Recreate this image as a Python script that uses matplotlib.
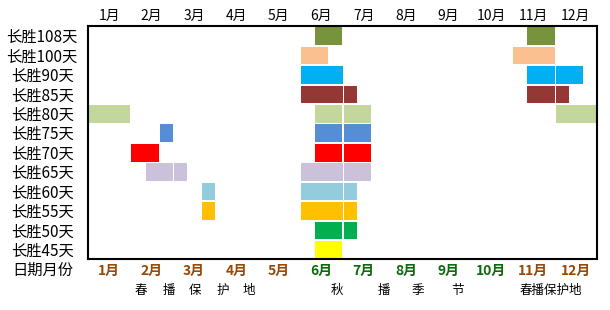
"""Sowing calendar for the 长胜 varieties (Gantt-like month grid)."""

import matplotlib

matplotlib.use("Agg")
import matplotlib.pyplot as plt  # noqa: E402
from matplotlib.transforms import blended_transform_factory  # noqa: E402

plt.rcParams["font.family"] = ["Noto Sans CJK SC", "DejaVu Sans"]

MONTHS = [f"{m}月" for m in range(1, 13)]
VARIETIES = [
    "长胜108天", "长胜100天", "长胜90天", "长胜85天", "长胜80天", "长胜75天",
    "长胜70天", "长胜65天", "长胜60天", "长胜55天", "长胜50天", "长胜45天",
]
COLORS = [
    "#77933C", "#FAC090", "#00B0F0", "#953735", "#C3D69B", "#558ED5",
    "#FF0000", "#CCC1DA", "#93CDDD", "#FFC000", "#00B050", "#FFFF00",
]
# sowing windows in 旬 (thirds of a month), counted from 1月上旬 = 0, end exclusive
PERIODS = [
    [(16, 18), (31, 33)],
    [(15, 17), (30, 33)],
    [(15, 18), (31, 35)],
    [(15, 19), (31, 34)],
    [(0, 3), (16, 20), (33, 36)],
    [(5, 6), (16, 20)],
    [(3, 5), (16, 20)],
    [(4, 7), (15, 20)],
    [(8, 9), (15, 19)],
    [(8, 9), (15, 19)],
    [(16, 19)],
    [(16, 18)],
]
MONTH_COLORS = ["#984807"] * 5 + ["#0B6A0B"] * 5 + ["#984807"] * 2
SEASON_NOTES = [
    ("春", 3.75), ("播", 5.75), ("保", 7.6), ("护", 9.5), ("地", 11.4),
    ("秋", 17.6), ("播", 20.9), ("季", 23.3), ("节", 26.1),
    ("春播保护地", 32.7),
]

fig = plt.figure(figsize=(6.1, 3.1), dpi=100)
ax = fig.add_axes([88 / 610, 1 - 259 / 310, 509 / 610, 233 / 310])

for row, (periods, color) in enumerate(zip(PERIODS, COLORS)):
    for start, end in periods:
        # split each window at month boundaries, like the merged cells in the sheet
        pos = start
        while pos < end:
            nxt = min(end, (pos // 3 + 1) * 3)
            ax.barh(row, nxt - pos, left=pos, height=0.96, color=color,
                    edgecolor="white", linewidth=0.7)
            pos = nxt

ax.set_xlim(0, 36)
ax.set_ylim(len(VARIETIES) - 0.5, -0.5)

ax.xaxis.tick_top()
ax.set_xticks([m * 3 + 1.5 for m in range(12)])
ax.set_xticklabels(MONTHS, fontsize=10)
ax.tick_params(axis="x", length=0, pad=2)

ax.set_yticks(range(len(VARIETIES)))
ax.set_yticklabels(VARIETIES, fontsize=11, ha="center")
ax.tick_params(axis="y", length=0, pad=33)

for spine in ax.spines.values():
    spine.set_linewidth(1.5)

trans = blended_transform_factory(ax.transData, ax.transAxes)
for m, (label, color) in enumerate(zip(MONTHS, MONTH_COLORS)):
    ax.text(m * 3 + 1.5, -0.05, label, transform=trans, ha="center", va="center",
            fontsize=10, fontweight="bold", color=color)
fig.text(42.5 / 610, 1 - 270.5 / 310, "日期月份", ha="center", va="center", fontsize=11)
for text, x in SEASON_NOTES:
    ax.text(x, -0.135, text, transform=trans, ha="center", va="center", fontsize=9)

fig.savefig("out.png", dpi=100)
